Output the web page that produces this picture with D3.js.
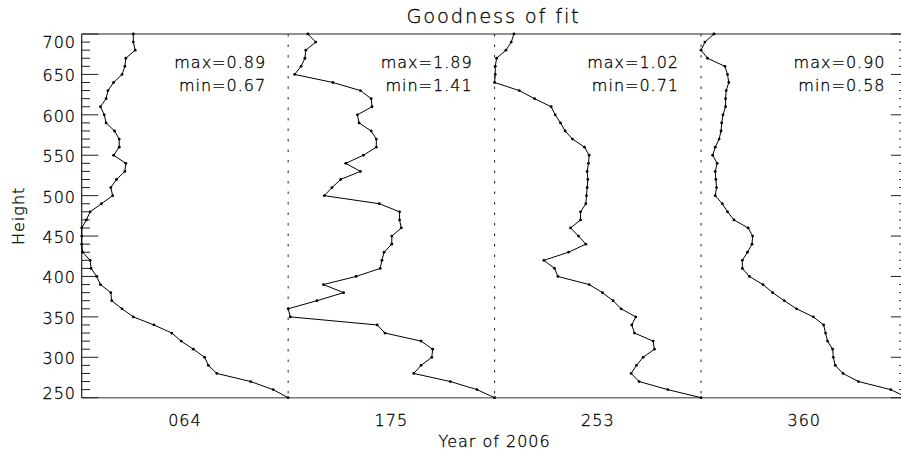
<!DOCTYPE html>
<html>
<head>
<meta charset="utf-8">
<title>Goodness of fit</title>
<script src="https://d3js.org/d3.v7.min.js"></script>
<style>
  body { margin: 0; background: #fff; }
  svg text { font-family: "DejaVu Sans", sans-serif; font-weight: 200; fill: #000; stroke: #000; stroke-width: 0.3px; }
</style>
</head>
<body>
<div id="chart"></div>
<script>
// heights, top to bottom
var heights = [700, 690, 680, 670, 660, 650, 640, 630, 620, 610,
               600, 590, 580, 570, 560, 550, 540, 530, 520, 510,
               500, 490, 480, 470, 460, 450, 440, 430, 420, 410,
               400, 390, 380, 370, 360, 350, 340, 330, 320, 310,
               300, 290, 280, 270, 260, 250];

var days = ["064", "175", "253", "360"];

var fit064 = [0.725, 0.725, 0.727, 0.717, 0.716, 0.713, 0.704, 0.698, 0.696, 0.690,
              0.694, 0.696, 0.705, 0.710, 0.710, 0.704, 0.717, 0.716, 0.707, 0.701,
              0.703, 0.691, 0.679, 0.675, 0.670, 0.670, 0.670, 0.671, 0.679, 0.680,
              0.686, 0.690, 0.701, 0.702, 0.713, 0.725, 0.747, 0.766, 0.776, 0.789,
              0.801, 0.805, 0.814, 0.850, 0.874, 0.890];

var fit175 = [1.456, 1.474, 1.451, 1.449, 1.440, 1.425, 1.514, 1.578, 1.603, 1.605,
              1.571, 1.575, 1.603, 1.615, 1.615, 1.585, 1.544, 1.578, 1.532, 1.512,
              1.494, 1.622, 1.669, 1.669, 1.673, 1.651, 1.651, 1.633, 1.628, 1.624,
              1.568, 1.492, 1.539, 1.477, 1.410, 1.415, 1.617, 1.635, 1.719, 1.746,
              1.744, 1.719, 1.702, 1.787, 1.849, 1.890];

var fit253 = [0.739, 0.735, 0.727, 0.713, 0.711, 0.711, 0.710, 0.747, 0.770, 0.795,
              0.801, 0.809, 0.816, 0.827, 0.845, 0.852, 0.851, 0.849, 0.850, 0.849,
              0.848, 0.847, 0.839, 0.839, 0.824, 0.836, 0.847, 0.821, 0.784, 0.800,
              0.805, 0.852, 0.872, 0.888, 0.900, 0.922, 0.916, 0.920, 0.948, 0.950,
              0.933, 0.923, 0.915, 0.927, 0.970, 1.020];

var fit360 = [0.600, 0.586, 0.580, 0.590, 0.617, 0.621, 0.623, 0.619, 0.618, 0.618,
              0.614, 0.612, 0.611, 0.608, 0.602, 0.598, 0.605, 0.602, 0.603, 0.604,
              0.602, 0.613, 0.621, 0.631, 0.653, 0.660, 0.659, 0.652, 0.644, 0.644,
              0.655, 0.676, 0.691, 0.709, 0.728, 0.754, 0.770, 0.773, 0.776, 0.784,
              0.785, 0.788, 0.800, 0.824, 0.874, 0.900];

var series = [fit064, fit175, fit253, fit360];

var W = 901, H = 453;
var xL = 81.7, xR = 907.5, yT = 34, yB = 397.7;
var pw = (xR - xL) / days.length;

var svg = d3.select("#chart").append("svg")
    .attr("width", W)
    .attr("height", H);

var y = d3.scaleLinear().domain([250, 700]).range([yB, yT]);

// frame: top line, bottom line, left axis, right axis
svg.append("line").attr("x1", xL).attr("x2", xR).attr("y1", yT).attr("y2", yT)
    .attr("stroke", "#222").attr("stroke-width", 1.2);
svg.append("line").attr("x1", xL).attr("x2", xR).attr("y1", yB).attr("y2", yB)
    .attr("stroke", "#777").attr("stroke-width", 1.5);
svg.append("line").attr("x1", xL).attr("x2", xL).attr("y1", yT).attr("y2", yB)
    .attr("stroke", "#222").attr("stroke-width", 1.2);
svg.append("line").attr("x1", xR).attr("x2", xR).attr("y1", yT).attr("y2", yB)
    .attr("stroke", "#222").attr("stroke-width", 1.2);

var minor = y.ticks(45), major = y.ticks(9);

function ticks(x0, dir) {
    svg.append("g").selectAll("line").data(minor).enter().append("line")
        .attr("x1", x0).attr("x2", function(d) {
            return x0 + dir * (major.indexOf(d) >= 0 ? 16.6 : 8.3);
        })
        .attr("y1", function(d) { return y(d); })
        .attr("y2", function(d) { return y(d); })
        .attr("stroke", "#222").attr("stroke-width", 1);
}
ticks(xL, 1);
ticks(xR, -1);

// y tick labels (end labels kept inside the frame)
svg.append("g").selectAll("text").data(major).enter().append("text")
    .attr("x", 76)
    .attr("y", function(d) {
        return Math.max(yT + 13.5, Math.min(yB + 1, y(d) + 7));
    })
    .attr("text-anchor", "end")
    .style("font-size", "16px")
    .style("letter-spacing", "1px")
    .text(function(d) { return d; });

// panel dividers
svg.append("g").selectAll("line").data(d3.range(1, days.length)).enter().append("line")
    .attr("x1", function(i) { return xL + i * pw; })
    .attr("x2", function(i) { return xL + i * pw; })
    .attr("y1", yT).attr("y2", yB)
    .attr("stroke", "#222").attr("stroke-width", 1)
    .attr("stroke-dasharray", "2.5,8");

series.forEach(function(vals, i) {
    var ext = d3.extent(vals);
    var x = d3.scaleLinear().domain(ext).range([xL + i * pw, xL + (i + 1) * pw]);
    var pts = vals.map(function(v, j) { return [x(v), y(heights[j])]; });

    var g = svg.append("g");
    g.append("path")
        .attr("d", d3.line()(pts))
        .attr("fill", "none")
        .attr("stroke", "#000")
        .attr("stroke-width", 1);
    g.selectAll("circle").data(pts).enter().append("circle")
        .attr("cx", function(p) { return p[0]; })
        .attr("cy", function(p) { return p[1]; })
        .attr("r", 1.4)
        .attr("fill", "#000");

    var xr = xL + (i + 1) * pw - 22;
    g.append("text").attr("x", xr).attr("y", 67.7).attr("text-anchor", "end")
        .style("font-size", "16px").style("letter-spacing", "1px")
        .text("max=" + ext[1].toFixed(2));
    g.append("text").attr("x", xr).attr("y", 91).attr("text-anchor", "end")
        .style("font-size", "16px").style("letter-spacing", "1px")
        .text("min=" + ext[0].toFixed(2));

    g.append("text").attr("x", xL + (i + 0.5) * pw).attr("y", 426)
        .attr("text-anchor", "middle")
        .style("font-size", "16px").style("letter-spacing", "1px")
        .text(days[i]);
});

svg.append("text")
    .attr("x", (xL + xR) / 2).attr("y", 446.7)
    .attr("text-anchor", "middle")
    .style("font-size", "16px").style("letter-spacing", "1px")
    .text("Year of 2006");

svg.append("text")
    .attr("transform", "translate(24," + ((yT + yB) / 2) + ") rotate(-90)")
    .attr("text-anchor", "middle")
    .style("font-size", "16px").style("letter-spacing", "1px")
    .text("Height");

svg.append("text")
    .attr("x", 493.5).attr("y", 22.7)
    .attr("text-anchor", "middle")
    .style("font-size", "19.5px").style("letter-spacing", "1.8px")
    .text("Goodness of fit");
</script>
</body>
</html>
